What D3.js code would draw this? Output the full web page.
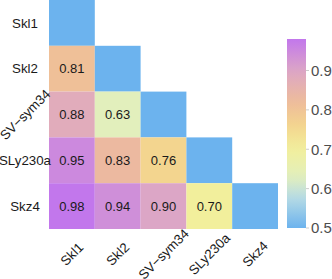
<!DOCTYPE html>
<html>
<head>
<meta charset="utf-8">
<script src="https://cdn.jsdelivr.net/npm/d3@7"></script>
<style>
  body { margin: 0; background: white; }
  text { font-family: "Liberation Sans", Arial, sans-serif; }
</style>
</head>
<body>
<svg></svg>
<script>
// 데이터
const models = ['Skl1', 'Skl2', 'SV−sym34', 'SLy230a', 'Skz4'];
// lower triangle values, row i has i entries (columns 0..i-1)
const rowSkl2 = [0.81];
const rowSVsym34 = [0.88, 0.63];
const rowSLy230a = [0.95, 0.83, 0.76];
const rowSkz4 = [0.98, 0.94, 0.90, 0.70];
const lowerRows = [[], rowSkl2, rowSVsym34, rowSLy230a, rowSkz4];
const colorbarTicks = [0.5, 0.6, 0.7, 0.8, 0.9];
const zMin = 0.5, zMax = 0.98;

const width = 332, height = 279;
const svg = d3.select('svg').attr('width', width).attr('height', height);

// cells
const cells = [];
models.forEach((row, i) => {
  lowerRows[i].forEach((v, j) => cells.push({ row, col: models[j], value: v, diag: false }));
  cells.push({ row, col: row, value: zMin, diag: true });
});

const x = d3.scaleBand().domain(models).range([49, 278]);
const y = d3.scaleBand().domain(models).range([0, 229]);

const color = d3.scaleLinear()
  .domain([0.5, 0.58, 0.63, 0.7, 0.76, 0.82, 0.9, 0.98])
  .range(['#6cb3ee', '#b9dce4', '#e2efbc', '#f2ef9c', '#f3d58f', '#eebc9a', '#dca6c6', '#c277ec'])
  .interpolate(d3.interpolateRgb)
  .clamp(true);

svg.append('g').selectAll('rect')
  .data(cells)
  .enter().append('rect')
  .attr('x', d => x(d.col))
  .attr('y', d => y(d.row))
  .attr('width', x.bandwidth())
  .attr('height', y.bandwidth())
  .attr('fill', d => color(d.value));

svg.append('g').selectAll('text')
  .data(cells.filter(d => !d.diag))
  .enter().append('text')
  .attr('x', d => x(d.col) + x.bandwidth() / 2)
  .attr('y', d => y(d.row) + y.bandwidth() / 2 + 4.7)
  .attr('text-anchor', 'middle')
  .attr('font-size', 13)
  .attr('fill', '#1a1a1a')
  .text(d => d.value.toFixed(2));

// y 라벨
svg.append('g').selectAll('text')
  .data(models)
  .enter().append('text')
  .attr('transform', d => {
    const cy = y(d) + y.bandwidth() / 2;
    return d === 'SV−sym34' ? `translate(25,${cy}) rotate(-45)` : `translate(25,${cy})`;
  })
  .attr('dy', '0.35em')
  .attr('text-anchor', 'middle')
  .attr('font-size', 13.3)
  .attr('fill', '#1a1a1a')
  .text(d => d);

// x 라벨
svg.append('g').selectAll('text')
  .data(models)
  .enter().append('text')
  .attr('transform', d => `translate(${x(d) + x.bandwidth() / 2},254) rotate(-45)`)
  .attr('dy', '0.35em')
  .attr('text-anchor', 'middle')
  .attr('font-size', 13.3)
  .attr('fill', '#1a1a1a')
  .text(d => d);

// colorbar
const cbX = 287, cbW = 19;
const cbScale = d3.scaleLinear().domain([zMin, zMax]).range([228, 39]);
const defs = svg.append('defs');
const grad = defs.append('linearGradient')
  .attr('id', 'cbgrad')
  .attr('x1', 0).attr('y1', 1).attr('x2', 0).attr('y2', 0);
d3.range(0, 1.0001, 0.05).forEach(t => {
  grad.append('stop')
    .attr('offset', t)
    .attr('stop-color', color(zMin + t * (zMax - zMin)));
});
svg.append('rect')
  .attr('x', cbX)
  .attr('y', cbScale(zMax))
  .attr('width', cbW)
  .attr('height', cbScale(zMin) - cbScale(zMax))
  .attr('fill', 'url(#cbgrad)');

const cbAxis = svg.append('g').attr('transform', `translate(${cbX + cbW},0)`);
cbAxis.selectAll('line')
  .data(colorbarTicks)
  .enter().append('line')
  .attr('x1', 0).attr('x2', 3)
  .attr('y1', d => cbScale(d)).attr('y2', d => cbScale(d))
  .attr('stroke', '#cccccc')
  .attr('stroke-width', 1);
cbAxis.selectAll('text')
  .data(colorbarTicks)
  .enter().append('text')
  .attr('x', 5)
  .attr('y', d => cbScale(d))
  .attr('dy', '0.36em')
  .attr('font-size', 15)
  .attr('fill', '#4d4d4d')
  .text(d => d.toFixed(1));
</script>
</body>
</html>
